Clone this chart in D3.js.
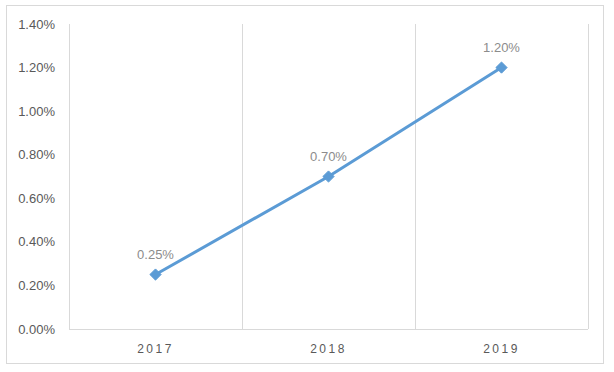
<!DOCTYPE html>
<html>
<head>
<meta charset="utf-8">
<script src="https://cdn.jsdelivr.net/npm/d3@7"></script>
<style>
  body { margin: 0; background: #fff; }
  text { font-family: "Liberation Sans", "DejaVu Sans", sans-serif; }
</style>
</head>
<body>
<div id="chart"></div>
<script>
const years = ["2017", "2018", "2019"];
const rates = [0.0025, 0.0070, 0.0120];
const yTicks = [0, 0.002, 0.004, 0.006, 0.008, 0.010, 0.012, 0.014];

(function () {
  const width = 614, height = 372;
  const margin = { top: 24, right: 26, bottom: 43, left: 69 };
  const svg = d3.select("#chart").append("svg")
    .attr("width", width).attr("height", height);

  // chart border
  svg.append("rect")
    .attr("x", 6.5).attr("y", 5.5)
    .attr("width", 597).attr("height", 358)
    .attr("fill", "#fff").attr("stroke", "#d9d9d9");

  const x = d3.scaleBand().domain(years)
    .range([margin.left, width - margin.right]);
  const y = d3.scaleLinear().domain([0, 0.014])
    .range([height - margin.bottom, margin.top]);
  const fmt = d3.format(".2%");

  // vertical gridlines at category boundaries
  const bounds = years.map(d => x(d)).concat([x(years[years.length - 1]) + x.bandwidth()]);
  svg.append("g").selectAll("line").data(bounds).join("line")
    .attr("x1", d => Math.round(d) + 0.5).attr("x2", d => Math.round(d) + 0.5)
    .attr("y1", y(0.014)).attr("y2", y(0))
    .attr("stroke", "#d9d9d9");

  // bottom axis line
  svg.append("line")
    .attr("x1", x.range()[0]).attr("x2", x.range()[1])
    .attr("y1", Math.round(y(0)) + 0.5).attr("y2", Math.round(y(0)) + 0.5)
    .attr("stroke", "#d9d9d9");

  // y tick labels
  svg.append("g").selectAll("text").data(yTicks).join("text")
    .attr("x", 55).attr("y", d => y(d))
    .attr("dy", "0.35em")
    .attr("text-anchor", "end")
    .attr("font-size", 13)
    .attr("fill", "#595959")
    .text(d => fmt(d));

  // x labels
  svg.append("g").selectAll("text").data(years).join("text")
    .attr("x", d => x(d) + x.bandwidth() / 2)
    .attr("y", height - margin.bottom + 24)
    .attr("text-anchor", "middle")
    .attr("font-size", 12)
    .attr("letter-spacing", "2.5px")
    .attr("fill", "#595959")
    .text(d => d);

  const pts = years.map((d, i) => [x(d) + x.bandwidth() / 2, y(rates[i])]);

  svg.append("path")
    .attr("d", d3.line()(pts))
    .attr("fill", "none")
    .attr("stroke", "#5b9bd5")
    .attr("stroke-width", 3)
    .attr("stroke-linejoin", "round");

  svg.append("g").selectAll("path").data(pts).join("path")
    .attr("transform", d => `translate(${d[0]},${d[1]})`)
    .attr("d", d3.symbol(d3.symbolDiamond2, 80))
    .attr("fill", "#5b9bd5")
    .attr("stroke", "#5b9bd5")
    .attr("stroke-width", 1);

  svg.append("g").selectAll("text").data(pts).join("text")
    .attr("x", d => d[0]).attr("y", d => d[1] - 16)
    .attr("text-anchor", "middle")
    .attr("font-size", 13)
    .attr("fill", "#8c8c8c")
    .text((d, i) => fmt(rates[i]));
})();
</script>
</body>
</html>
